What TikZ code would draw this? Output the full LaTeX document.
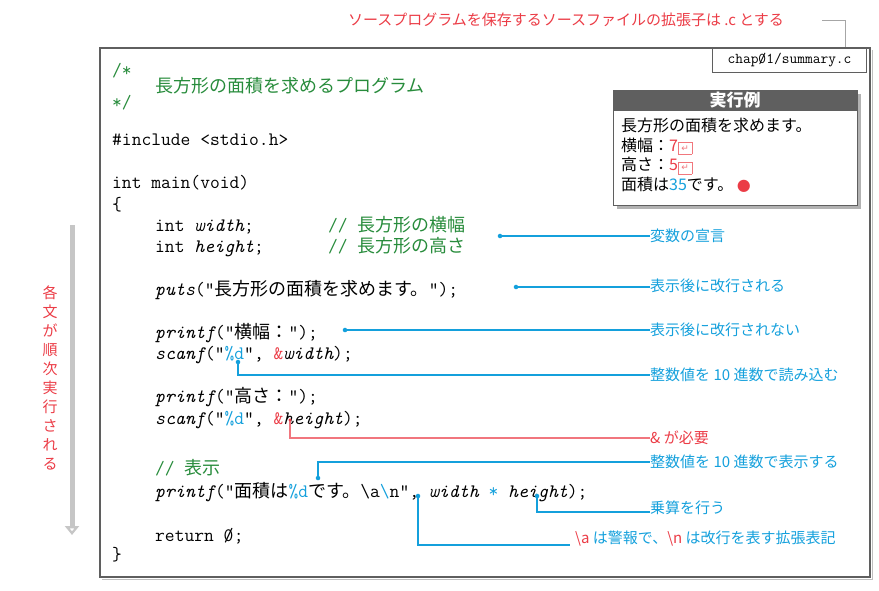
\documentclass[tikz,border=0pt]{standalone}
\usepackage{fontspec}
\newfontfamily\jp{Noto Sans CJK JP}
\newfontfamily\djv{DejaVu Sans}
\usetikzlibrary{arrows.meta}
\definecolor{cgreen}{RGB}{40,140,60}
\definecolor{cblue}{RGB}{20,160,220}
\definecolor{cred}{RGB}{235,60,70}
\definecolor{cgray}{RGB}{95,95,95}
\tikzset{
 code/.style={anchor=base west,inner sep=0pt,font=\fontsize{19}{19}\ttfamily},
 lab/.style={anchor=west,inner sep=0pt,font=\fontsize{15}{15}\jp,text=cblue},
 bl/.style={draw=cblue,line width=1.2pt},
 rl/.style={draw=cred!70,line width=1.2pt},
 dot/.style={circle,fill=cblue,inner sep=1.6pt},
}
\newcommand{\J}[1]{{\jp\fontsize{18}{18}\selectfont #1}}
\newcommand{\I}[1]{{\itshape #1}}
\newcommand{\RET}{{\color{cred!70}\fbox{\djv\fontsize{9}{9}\selectfont ↵}}}
\begin{document}
\begin{tikzpicture}[x=1pt,y=-1pt]
\useasboundingbox (0,0) rectangle (879,590);
% top note
\node[lab,text=cred,anchor=center] (top) at (566,20) {ソースプログラムを保存するソースファイルの拡張子は .c とする};
\coordinate (tc1) at (822,20);
\coordinate (tc2) at (845,50);
\draw[gray!70,line width=0.8pt] (tc1) -- (845,20) -- (tc2);
\fill[cred!60] (tc2) circle (1.5pt);
% frame
\draw[cgray,line width=1.2pt] (100,48) rectangle (870,577);
\draw[gray!50,line width=1pt] (102,579) -- (872,579) -- (872,50);
\node[draw=cgray,line width=1pt,fill=white,minimum width=154pt,minimum height=24pt,anchor=north west,font=\fontsize{15}{15}\ttfamily] (fname) at (712,48) {chap0\kern-.5em/1/summary.c};
% execution box
\fill[gray!60] (617,94) rectangle (861,209);
\draw[cgray,fill=white,line width=1pt] (613,90) rectangle (857,205);
\fill[cgray] (613,90) rectangle (857,111);
\node[font=\fontsize{17}{17}\jp\bfseries,text=white] (exh) at (735,100.5) {実行例};
\node[anchor=north west,align=left,font=\fontsize{16}{19.5}\jp,inner sep=0pt] (ex) at (621,118) {長方形の面積を求めます。\\横幅：{\color{cred}7}\RET\\高さ：{\color{cred}5}\RET\\面積は{\color{cblue}35}です。\ {\color{cred}\djv ●}};
% left arrow
\draw[gray!45,line width=5pt,-{Triangle[length=9pt,width=14pt,fill=white]}] (72,225) -- (72,535);
\node[align=center,font=\fontsize{15}{19}\jp,text=cred] (vt) at (50,378) {各\\文\\が\\順\\次\\実\\行\\さ\\れ\\る};
% code
\node[code,text=cgreen] (c1) at (112,76) {/*};
\node[code,text=cgreen] (c1b) at (155,92) {\J{長方形の面積を求めるプログラム}};
\node[code,text=cgreen] (c2) at (112,108) {*/};
\node[code] (c3) at (112,145) {\#include <stdio.h>};
\node[code] (c4) at (112,188) {int main(void)};
\node[code] (c5) at (112,210) {\{};
\node[code] (c6) at (155,231) {int \I{width};};
\node[code,text=cgreen] (c6c) at (328,231) {// \J{長方形の横幅}};
\node[code] (c7) at (155,252) {int \I{height};};
\node[code,text=cgreen] (c7c) at (328,252) {// \J{長方形の高さ}};
\node[code] (c8) at (155,295) {\I{puts}("\J{長方形の面積を求めます。}");};
\node[code] (c9) at (155,338) {\I{printf}("\J{横幅：}");};
\node[code] (c10) at (155,359) {\I{scanf}("{\color{cblue}\%d}", {\color{cred}\&}\I{width});};
\node[code] (c11) at (155,402) {\I{printf}("\J{高さ：}");};
\node[code] (c12) at (155,424) {\I{scanf}("{\color{cblue}\%d}", {\color{cred}\&}\I{height});};
\node[code,text=cgreen] (c13) at (155,474) {// \J{表示}};
\node[code] (c14) at (155,497) {\I{printf}("\J{面積は}{\color{cblue}\%d}\J{です。}\textbackslash a{\color{cblue}\textbackslash}n", \I{width} {\color{cblue}*} \I{height});};
\node[code] (c15) at (155,541) {return 0\kern-.5em/;};
\node[code] (c16) at (112,560) {\}};
% labels
\node[lab] (l1) at (650,236) {変数の宣言};
\node[lab] (l2) at (650,286) {表示後に改行される};
\node[lab] (l3) at (650,330) {表示後に改行されない};
\node[lab] (l4) at (650,375) {整数値を 10 進数で読み込む};
\node[lab,text=cred] (l5) at (650,438) {\& が必要};
\node[lab] (l6) at (650,462) {整数値を 10 進数で表示する};
\node[lab] (l7) at (650,508) {乗算を行う};
\node[lab] (l8) at (575,539) {{\color{cred}\textbackslash a} は警報で、{\color{cred}\textbackslash n} は改行を表す拡張表記};
% connectors
\coordinate (p1) at (500,236);
\draw[bl] (p1) -- (l1.west); \node[dot] at (p1) {};
\coordinate (p2) at (516,287);
\draw[bl] (p2) -- (l2.west|-p2); \node[dot] at (p2) {};
\coordinate (p3) at (345,330);
\draw[bl] (p3) -- (l3.west|-p3); \node[dot] at (p3) {};
\coordinate (p4) at (238,362);
\draw[bl] (p4) -- (238,375) -- (l4.west); \node[dot] at (p4) {};
\coordinate (p5) at (290,420);
\draw[rl] (p5) -- (290,438) -- (l5.west); \fill[cred] (p5) circle (1.6pt);
\coordinate (p6) at (318,478);
\draw[bl] (p6) -- (318,462) -- (l6.west); \node[dot] at (p6) {};
\coordinate (p7) at (537,496);
\draw[bl] (p7) -- (537,512) -- (l7.west|-0,512); \node[dot] at (p7) {};
\coordinate (p8) at (418,496);
\draw[bl] (p8) -- (418,545) -- (570,545); \node[dot] at (p8) {};
\end{tikzpicture}
\end{document}
